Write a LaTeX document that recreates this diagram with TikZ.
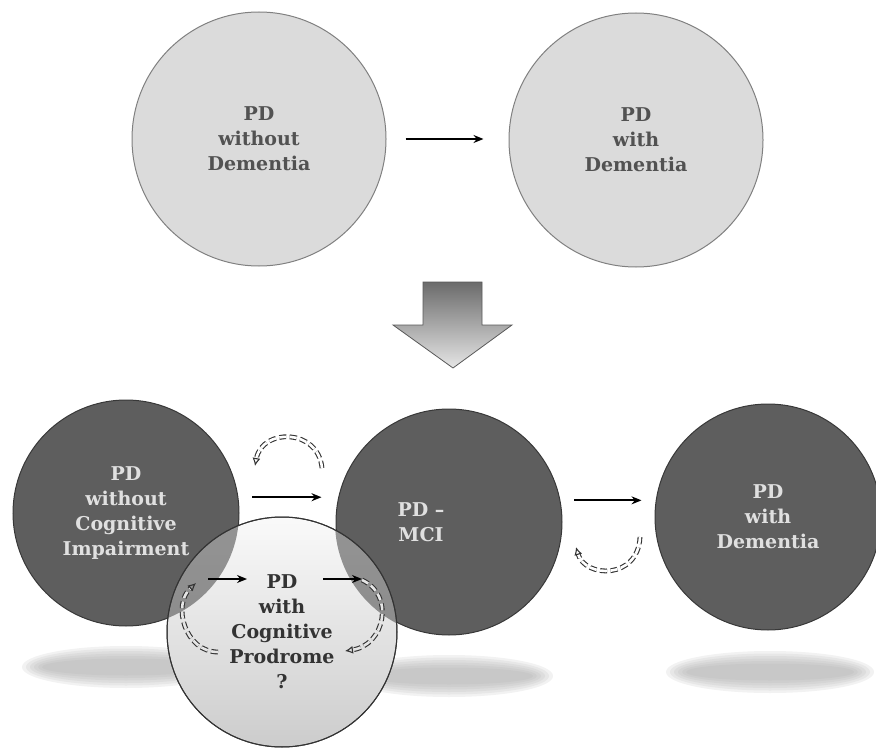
\documentclass[tikz,border=0pt]{standalone}
\usepackage{fontspec}
\setmainfont{DejaVu Serif}
\usetikzlibrary{positioning, arrows.meta, calc}

\tikzset{
  stage/.style={circle, minimum size=#1, inner sep=0pt, align=center,
    font=\fontsize{19}{25}\selectfont\bfseries},
  early/.style={stage=254pt, fill=black!14, draw=black!50, line width=1pt, text=black!68},
  late/.style={stage=226pt, fill=black!63, draw=black!78, line width=1pt, text=black!12},
  arr/.style={-{Stealth[length=10pt, width=8pt]}, line width=1.8pt},
  cyclearr/.style={dash pattern=on 7pt off 3.5pt, double=#1, double distance=2.6pt,
    line width=1.1pt, black!80, -{Latex[open, length=8pt, width=8pt]}},
  cyclearr/.default=white,
}

\begin{document}
\begin{tikzpicture}[x=1pt, y=-1pt]
    \useasboundingbox (0,0) rectangle (876,749);

    % shadows under the lower circles
    \foreach \cx/\cy in {126/667, 449/676, 770/672}
    {
        \foreach \k in {0,...,5}
        {
            \fill[black!35, opacity=0.15]
                (\cx,\cy) ellipse [x radius={104pt-4pt*\k}, y radius={21pt-2.5pt*\k}];
        }
    }

    % old model
    \node[early] (pdw) at (259,139) {PD\\without\\Dementia};
    \node[early] (pdd) at (636,140) {PD\\with\\Dementia};
    \draw[arr] ([xshift=19pt]pdw.east) -- ([xshift=-25pt]pdd.west |- pdw.east);

    % big arrow
    \shade[top color=black!58, bottom color=black!10, draw=black!65, line width=0.8pt]
        (423,282) -- (482,282) -- (482,325) -- (512,325) -- (453,368)
        -- (393,325) -- (423,325) -- cycle;

    % new model
    \node[late] (nci) at (126,513) {PD\\without\\Cognitive\\Impairment};
    \node[late] (mci) at (449,522) {};
    \node[late] (pdm) at (768,517) {PD\\with\\Dementia};
    \node[font=\fontsize{19}{25}\selectfont\bfseries, text=black!12, align=center]
        (mcitext) at ([xshift=-28pt]mci.center) {PD –\\MCI};

    \node[stage=230pt, top color=black!2, bottom color=black!20, draw=black!80,
        line width=1pt, text=black!80] (pcp) at (282,632)
        {PD\\with\\Cognitive\\Prodrome\\?};

    % overlap with the dark circles
    \begin{scope}
        \clip (pcp.center) circle [radius=115pt];
        \fill[black!63, opacity=0.65]
            (nci.center) circle [radius=113pt]
            (mci.center) circle [radius=114pt];
    \end{scope}
    \draw[black!80, line width=1pt] (pcp.center) circle [radius=115pt];

    % transitions
    \draw[arr] ([xshift=14pt]nci.8) -- ([xshift=-14pt]mci.west |- nci.8);
    \draw[arr] ([xshift=14pt]mci.11) -- ([xshift=-13pt]pdm.west |- mci.11);
    \draw[arr] ([shift={(-74,-53)}]pcp.center) -- ([shift={(-35,-53)}]pcp.center);
    \draw[arr] ([shift={(41,-53)}]pcp.center) -- ([shift={(80,-53)}]pcp.center);

    % reversions
    \coordinate (r1) at (322,468);
    \coordinate (r1e) at (255,466);
    \coordinate (r2) at (640,537);
    \coordinate (r2e) at (576,547);
    \coordinate (r3) at (218,652);
    \coordinate (r3e) at (196,583);
    \coordinate (r4) at (362,580);
    \coordinate (r4e) at (345,651);

    \draw[cyclearr] (r1) .. controls (318,428) and (262,428) .. (r1e);
    \draw[cyclearr] (r2) .. controls (638,580) and (585,578) .. (r2e);
    \draw[cyclearr=black!10] (r3) .. controls (185,652) and (172,605) .. (r3e);
    \draw[cyclearr=black!10] (r4) .. controls (395,595) and (385,645) .. (r4e);
\end{tikzpicture}
\end{document}
